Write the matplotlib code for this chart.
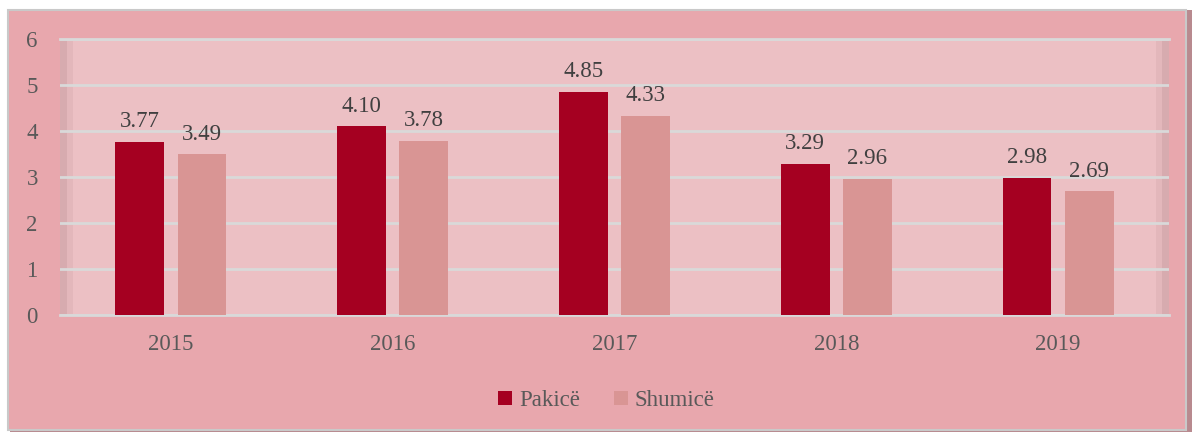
import numpy as np
import matplotlib.pyplot as plt
from matplotlib.patches import Rectangle

years = ['2015', '2016', '2017', '2018', '2019']
pakice = [3.77, 4.10, 4.85, 3.29, 2.98]
shumice = [3.49, 3.78, 4.33, 2.96, 2.69]

plt.rcParams['font.family'] = ['Liberation Serif', 'DejaVu Serif']

fig = plt.figure(figsize=(11.94, 4.34), dpi=100)
fig.patch.set_facecolor('white')

# outer pink frame with a soft shadow
fig.patches.append(Rectangle((10/1194, 2/434), 1182/1194, 422/434, transform=fig.transFigure,
                             facecolor='#b88a8f', edgecolor='none', zorder=-3))
fig.patches.append(Rectangle((8/1194, 4/434), 1178/1194, 420/434, transform=fig.transFigure,
                             facecolor='#e8a7ad', edgecolor='#c9c9c9', linewidth=1.5, zorder=-2))

ax = fig.add_axes([60/1194, 119/434, 1109/1194, 276/434])
ax.set_facecolor('#ecc0c4')

# darker inner edges of the plot area
for x0, alpha in ((0.0, 0.18), (0.006, 0.08), (0.988, 0.08), (0.994, 0.18)):
    ax.add_patch(Rectangle((x0, 0), 0.006, 1, transform=ax.transAxes,
                           facecolor='#7a5055', alpha=alpha, edgecolor='none', zorder=0))

x = np.arange(len(years))
w = 0.22
gap = 0.03
b1 = ax.bar(x - w/2 - gap, pakice, w, color='#a50021', label='Pakicë', zorder=3)
b2 = ax.bar(x + w/2 + gap, shumice, w, color='#d99594', label='Shumicë', zorder=3)

for bars, vals in ((b1, pakice), (b2, shumice)):
    for b, v in zip(bars, vals):
        ax.annotate(f'{v:.2f}', (b.get_x() + b.get_width()/2, v), xytext=(0, 7),
                    textcoords='offset points', ha='center', va='bottom',
                    fontsize=16.5, color='#404040')

ax.set_ylim(0, 6)
ax.set_xlim(-0.5, len(years) - 0.5)
ax.set_yticks(range(0, 7))
ax.set_xticks(x)
ax.set_xticklabels(years)
ax.yaxis.grid(True, color='#d9d9d9', linewidth=2, zorder=1)
ax.set_axisbelow(True)
for s in ['left', 'right']:
    ax.spines[s].set_visible(False)
ax.spines['top'].set_color('#d9d9d9')
ax.spines['top'].set_linewidth(2)
ax.spines['bottom'].set_color('#d9d9d9')
ax.spines['bottom'].set_linewidth(2)
ax.tick_params(axis='both', length=0, labelsize=16.5, labelcolor='#595959')
ax.tick_params(axis='x', pad=14)
ax.tick_params(axis='y', pad=16)

leg = fig.legend(handles=[b1, b2], loc='center', bbox_to_anchor=(0.508, 0.077), ncol=2,
                 frameon=False, fontsize=16.5, handlelength=0.6, handleheight=0.6,
                 handletextpad=0.3, columnspacing=1.5)
for t in leg.get_texts():
    t.set_color('#595959')

fig.savefig('out.png', dpi=100, facecolor=fig.get_facecolor())
